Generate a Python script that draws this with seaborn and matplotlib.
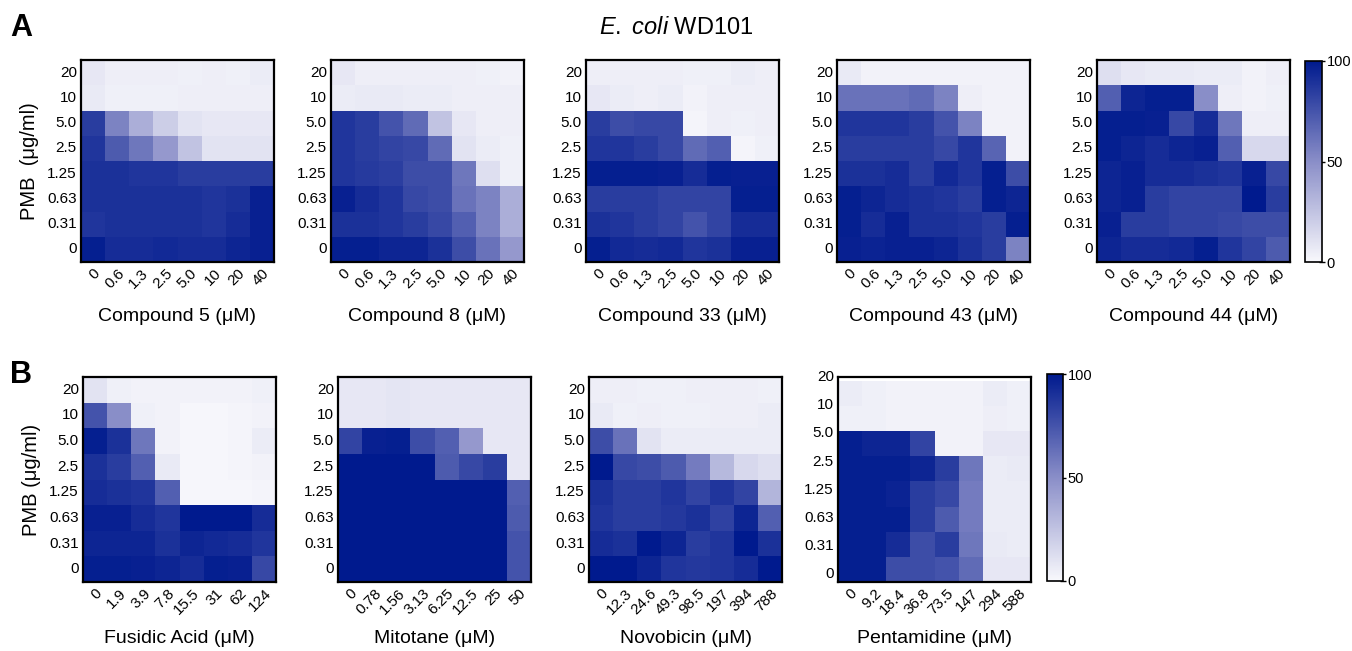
import numpy as np
import pandas as pd
import seaborn as sns
import matplotlib.pyplot as plt
from matplotlib.colors import LinearSegmentedColormap

# %%
######################## data ########################
pmb = ['20', '10', '5.0', '2.5', '1.25', '0.63', '0.31', '0']
cpd_conc = ['0', '0.6', '1.3', '2.5', '5.0', '10', '20', '40']

cpd5 = [[8, 5, 5, 5, 4, 5, 4, 6],
        [7, 4, 4, 4, 5, 5, 5, 5],
        [85, 55, 35, 20, 10, 8, 8, 8],
        [88, 72, 60, 45, 25, 10, 10, 10],
        [90, 90, 88, 88, 85, 85, 85, 85],
        [90, 90, 90, 90, 90, 88, 90, 97],
        [88, 90, 90, 90, 90, 88, 92, 97],
        [98, 92, 92, 93, 92, 92, 95, 97]]

cpd8 = [[8, 5, 5, 5, 5, 5, 4, 3],
        [6, 7, 7, 6, 6, 5, 5, 5],
        [88, 85, 75, 65, 25, 8, 5, 5],
        [88, 85, 82, 80, 65, 10, 6, 4],
        [88, 86, 84, 78, 78, 60, 12, 4],
        [97, 92, 88, 80, 78, 62, 55, 35],
        [90, 90, 88, 85, 80, 70, 55, 35],
        [98, 98, 95, 95, 90, 78, 62, 45]]

cpd33 = [[5, 5, 5, 5, 4, 4, 6, 5],
         [8, 6, 5, 6, 3, 5, 5, 5],
         [85, 78, 80, 80, 2, 5, 4, 5],
         [88, 88, 85, 80, 65, 70, 2, 4],
         [98, 98, 98, 97, 92, 98, 97, 97],
         [85, 85, 85, 82, 82, 82, 98, 98],
         [90, 88, 85, 82, 75, 82, 92, 92],
         [98, 93, 92, 93, 88, 90, 97, 97]]

cpd43 = [[7, 3, 3, 3, 3, 3, 3, 3],
         [62, 62, 62, 65, 55, 5, 3, 3],
         [88, 88, 88, 85, 75, 55, 3, 3],
         [85, 85, 85, 85, 80, 88, 68, 3],
         [90, 90, 92, 85, 93, 88, 98, 78],
         [98, 95, 92, 90, 88, 85, 98, 95],
         [98, 92, 97, 90, 90, 88, 85, 98],
         [97, 96, 97, 97, 95, 90, 85, 55]]

cpd44 = [[12, 8, 7, 7, 6, 6, 3, 5],
         [70, 95, 98, 98, 50, 5, 3, 4],
         [98, 98, 97, 80, 92, 60, 5, 5],
         [98, 95, 92, 95, 97, 70, 15, 15],
         [95, 97, 92, 92, 90, 88, 97, 80],
         [95, 97, 85, 82, 82, 82, 100, 85],
         [97, 85, 85, 82, 82, 80, 78, 78],
         [95, 92, 92, 93, 98, 88, 82, 72]]

fus_conc = ['0', '1.9', '3.9', '7.8', '15.5', '31', '62', '124']
fusidic = [[10, 4, 3, 3, 3, 3, 3, 4],
           [75, 50, 4, 3, 1, 1, 2, 3],
           [98, 90, 60, 3, 1, 1, 2, 6],
           [90, 85, 70, 7, 1, 1, 2, 3],
           [92, 90, 88, 70, 1, 1, 1, 2],
           [97, 97, 92, 88, 100, 100, 100, 92],
           [95, 95, 95, 90, 95, 93, 92, 88],
           [98, 98, 97, 95, 92, 98, 97, 80]]

mit_conc = ['0', '0.78', '1.56', '3.13', '6.25', '12.5', '25', '50']
mitotane = [[8, 8, 9, 8, 8, 8, 8, 8],
            [8, 8, 9, 8, 8, 8, 8, 8],
            [82, 97, 98, 78, 70, 45, 8, 8],
            [100, 100, 100, 100, 72, 80, 85, 8],
            [100, 100, 100, 100, 100, 100, 100, 70],
            [100, 100, 100, 100, 100, 100, 100, 72],
            [100, 100, 100, 100, 100, 100, 100, 75],
            [100, 100, 100, 100, 100, 100, 100, 75]]

nov_conc = ['0', '12.3', '24.6', '49.3', '98.5', '197', '394', '788']
novobicin = [[5, 5, 4, 4, 5, 5, 5, 4],
             [7, 4, 5, 4, 4, 5, 5, 6],
             [78, 62, 10, 6, 6, 6, 6, 6],
             [100, 80, 78, 72, 58, 30, 15, 12],
             [90, 85, 85, 88, 82, 88, 82, 32],
             [88, 85, 85, 87, 90, 83, 95, 70],
             [92, 90, 100, 95, 85, 88, 100, 90],
             [100, 100, 95, 88, 87, 88, 92, 100]]

pent_conc = ['0', '9.2', '18.4', '36.8', '73.5', '147', '294', '588']
pentamidine = [[6, 4, 3, 3, 3, 3, 6, 4],
               [4, 4, 3, 3, 3, 3, 5, 4],
               [98, 95, 95, 82, 3, 3, 8, 8],
               [98, 98, 98, 95, 85, 60, 6, 7],
               [98, 98, 96, 85, 80, 58, 6, 6],
               [98, 98, 98, 85, 72, 58, 6, 6],
               [98, 98, 92, 78, 85, 60, 7, 6],
               [98, 98, 78, 78, 75, 65, 8, 8]]

row_a = [('Compound 5', cpd5, cpd_conc), ('Compound 8', cpd8, cpd_conc),
         ('Compound 33', cpd33, cpd_conc), ('Compound 43', cpd43, cpd_conc),
         ('Compound 44', cpd44, cpd_conc)]
row_b = [('Fusidic Acid', fusidic, fus_conc), ('Mitotane', mitotane, mit_conc),
         ('Novobicin', novobicin, nov_conc), ('Pentamidine', pentamidine, pent_conc)]

# %%
################################ plot ########################################
sns.set_style('white')
plt.rcParams['font.family'] = ['Liberation Sans', 'DejaVu Sans']
plt.rcParams['mathtext.fontset'] = 'custom'
plt.rcParams['mathtext.it'] = 'Liberation Sans:italic'
plt.rcParams['mathtext.rm'] = 'Liberation Sans'
for k in ['text.color', 'axes.labelcolor', 'xtick.color', 'ytick.color']:
    plt.rcParams[k] = 'black'

cmap = LinearSegmentedColormap.from_list('wb', ['#f8f8fc', '#8a8ec8', '#001a8e'])

W, H = 1352, 651
fig = plt.figure(figsize=(W / 100, H / 100), dpi=100)


def px_axes(x0, y0, x1, y1):
    return fig.add_axes([x0 / W, 1 - y1 / H, (x1 - x0) / W, (y1 - y0) / H])


def draw_panel(ax, name, vals, conc, ylabel=None, shift_ticks=False, lpad=10):
    df = pd.DataFrame(vals, index=pmb, columns=conc)
    sns.heatmap(df, ax=ax, cmap=cmap, vmin=0, vmax=100, cbar=False, square=False)
    for s in ax.spines.values():
        s.set_visible(True)
        s.set_linewidth(1.6)
        s.set_color('black')
    ax.tick_params(length=0, labelsize=11, pad=3)
    ax.set_xticklabels(conc, rotation=45, ha='right', rotation_mode='anchor')
    if shift_ticks:
        ax.set_yticks(np.linspace(-0.15, 7.7, 8))
    ax.set_yticklabels(pmb, rotation=0)
    ax.set_xlabel(name + ' (\u03bcM)', fontsize=14, labelpad=lpad)
    ax.set_ylabel(ylabel if ylabel else '', fontsize=14.5, labelpad=6)
    return ax.collections[0]


def add_cbar(m, box):
    cax = px_axes(*box)
    cb = fig.colorbar(m, cax=cax, ticks=[0, 50, 100])
    cb.outline.set_linewidth(1.2)
    cb.outline.set_edgecolor('black')
    cb.ax.tick_params(labelsize=10.5, length=5, width=1, direction='inout', pad=1)


lefts_a = [81, 331, 586, 837, 1097]
for i, (name, vals, conc) in enumerate(row_a):
    ax = px_axes(lefts_a[i], 60, lefts_a[i] + 193, 262)
    m = draw_panel(ax, name, vals, conc, 'PMB  (\u03bcg/ml)' if i == 0 else None, lpad=12)
add_cbar(m, (1305, 61, 1322, 262))

lefts_b = [83, 338, 589, 838]
for i, (name, vals, conc) in enumerate(row_b):
    ax = px_axes(lefts_b[i], 377, lefts_b[i] + 193, 582)
    m = draw_panel(ax, name, vals, conc, 'PMB (\u03bcg/ml)' if i == 0 else None,
                   shift_ticks=(name == 'Pentamidine'), lpad=9)
add_cbar(m, (1047, 374, 1063, 581))

fig.text(676 / W, 1 - 28 / H, r'$\mathit{E.\ coli}$ WD101', fontsize=17, ha='center', va='center')
fig.text(10 / W, 1 - 28 / H, 'A', fontsize=22, fontweight='bold', ha='left', va='center')
fig.text(10 / W, 1 - 375 / H, 'B', fontsize=22, fontweight='bold', ha='left', va='center')

plt.savefig('out.png', dpi=100)
